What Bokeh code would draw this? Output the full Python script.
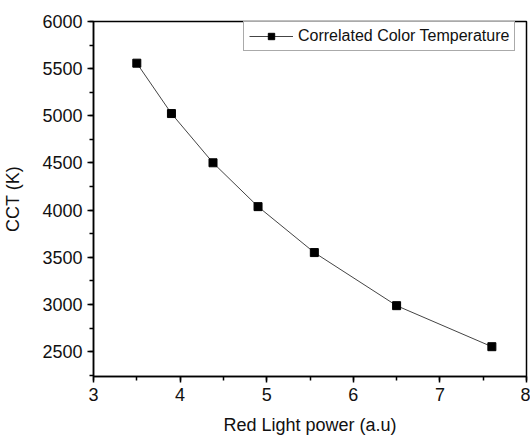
from bokeh.plotting import figure
from bokeh.models import Range1d, Legend, LegendItem, SingleIntervalTicker
from bokeh.embed import file_html
from bokeh.resources import INLINE

# Data
red_power = [3.5, 3.9, 4.38, 4.9, 5.55, 6.5, 7.6]
cct = [5558, 5024, 4502, 4037, 3550, 2987, 2552]
series_name = "Correlated Color Temperature"
x_label = "Red Light power (a.u)"
y_label = "CCT (K)"

FONT = "Liberation Sans"

p = figure(width=530, height=437, output_backend="svg", toolbar_location=None,
           x_range=Range1d(3, 8), y_range=Range1d(2236, 6000),
           min_border_left=91, min_border_right=4, min_border_top=21, min_border_bottom=60)

p.outline_line_color = "black"
p.outline_line_width = 1.5
p.xgrid.visible = False
p.ygrid.visible = False
p.background_fill_color = "white"
p.border_fill_color = "white"

line = p.line(red_power, cct, line_color="#444444", line_width=1)
pts = p.scatter(red_power, cct, marker="square", size=8, fill_color="black", line_color="black")

p.xaxis.ticker = SingleIntervalTicker(interval=1, num_minor_ticks=2)
p.yaxis.ticker = SingleIntervalTicker(interval=500, num_minor_ticks=2)

for ax in (p.xaxis[0], p.yaxis[0]):
    ax.axis_line_color = "black"
    ax.axis_line_width = 1.5
    ax.major_tick_line_color = "black"
    ax.major_tick_line_width = 1.5
    ax.minor_tick_line_color = "black"
    ax.minor_tick_line_width = 1.5
    ax.major_tick_out = 6
    ax.major_tick_in = 0
    ax.minor_tick_out = 4
    ax.minor_tick_in = 0
    ax.major_label_text_font = FONT
    ax.major_label_text_font_size = "18px"
    ax.major_label_text_color = "#111111"
    ax.major_label_standoff = 5
    ax.axis_label_text_font = FONT
    ax.axis_label_text_font_size = "18px"
    ax.axis_label_text_font_style = "normal"
    ax.axis_label_text_color = "#111111"

p.xaxis.axis_label = x_label
p.yaxis.axis_label = y_label
p.xaxis.axis_label_standoff = 11
p.yaxis.axis_label_standoff = 16

legend = Legend(items=[LegendItem(label=series_name, renderers=[line, pts])],
                location=(150, 325))
legend.label_text_font = FONT
legend.label_text_font_size = "16px"
legend.label_text_color = "#111111"
legend.label_height = 16
legend.glyph_height = 16
legend.glyph_width = 44
legend.label_standoff = 5
legend.padding = 5
legend.spacing = 0
legend.margin = 0
legend.border_line_color = "#555555"
legend.border_line_width = 1
legend.background_fill_alpha = 1
p.add_layout(legend, "center")

open("out.html", "w").write(file_html(p, INLINE))
